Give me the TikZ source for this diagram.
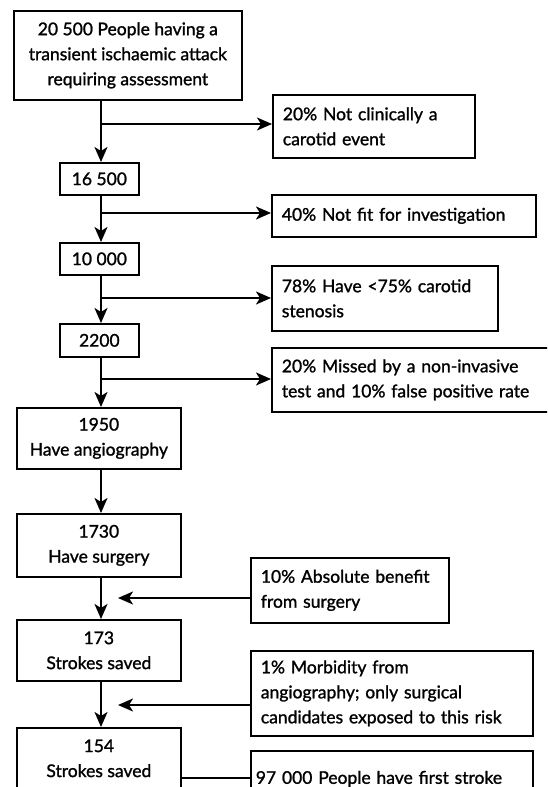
\documentclass[tikz,border=0pt]{standalone}
\usepackage{fontspec}
\setmainfont{Lato}[BoldFont=Lato, BoldFeatures={FakeBold=1.3}]
\usetikzlibrary{arrows.meta}

\begin{document}
\begin{tikzpicture}[x=1pt,y=-1pt,
  flowbox/.style={draw, line width=1.7pt, anchor=north west, align=center, inner sep=0pt, font=\fontsize{17.5}{25}\selectfont\bfseries},
  notebox/.style={draw, line width=1.7pt, anchor=north west, align=left, inner xsep=10pt, inner ysep=0pt, font=\fontsize{17.5}{25}\selectfont\bfseries},
  flow/.style={line width=1.9pt, -{Stealth[length=15pt,width=13pt,inset=4pt]}},
  link/.style={line width=1.9pt}]
 \clip (0,0) rectangle (547,787);
 % Main column
 \node[flowbox, minimum width=228pt, minimum height=89pt] (tia) at (13,10) {20 500 People having a\\transient ischaemic attack\\requiring assessment};
 \node[flowbox, minimum width=79pt, minimum height=32pt] (n16) at (59,162) {16 500};
 \node[flowbox, minimum width=79pt, minimum height=32pt] (n10) at (59,242) {10 000};
 \node[flowbox, minimum width=79pt, minimum height=33pt] (n22) at (59,323) {2200};
 \node[flowbox, minimum width=164pt, minimum height=61pt] (angio) at (16,407) {1950\\Have angiography};
 \node[flowbox, minimum width=164pt, minimum height=63pt] (surg) at (16,513) {1730\\Have surgery};
 \node[flowbox, minimum width=164pt, minimum height=61pt] (saved) at (16,619) {173\\Strokes saved};
 \node[flowbox, minimum width=164pt, minimum height=61pt] (net) at (16,727) {154\\Strokes saved};
 % Side boxes
 \node[notebox, text width=182pt, minimum height=63pt] (notca) at (272,94) {20\% Not clinically a\\carotid event};
 \node[notebox, text width=244pt, minimum height=42pt] (notfit) at (271,194) {40\% Not fit for investigation};
 \node[notebox, text width=206pt, minimum height=65pt] (sten) at (271,265) {78\% Have <75\% carotid\\stenosis};
 \node[notebox, text width=270pt, minimum height=64pt] (miss) at (271,347) {20\% Missed by a non-invasive\\test and 10\% false positive rate};
 \node[notebox, text width=178pt, minimum height=65pt] (benef) at (250,557) {10\% Absolute benefit\\from surgery};
 \node[notebox, text width=262pt, minimum height=85pt] (morb) at (250,650) {1\% Morbidity from\\angiography; only surgical\\candidates exposed to this risk};
 \node[notebox, inner xsep=5pt, text width=272pt, minimum height=56pt] (first) at (250,750) {97 000 People have first stroke};
 % Branch points
 \coordinate (s1) at (101,124);
 \coordinate (s2) at (101,213);
 \coordinate (s3) at (101,298);
 \coordinate (s4) at (101,379);
 \coordinate (m5) at (118,598);
 \coordinate (m6) at (118,705);
 \coordinate (s7) at (180,778);
 % Connectors
 \draw[flow] (tia.south -| s1) -- (n16.north -| s1);
 \draw[flow] (s1) -- (s1 -| notca.west);
 \draw[flow] (n16.south -| s1) -- (n10.north -| s1);
 \draw[flow] (s2) -- (s2 -| notfit.west);
 \draw[flow] (n10.south -| s1) -- (n22.north -| s1);
 \draw[flow] (s3) -- (s3 -| sten.west);
 \draw[flow] (n22.south -| s1) -- (angio.north -| s1);
 \draw[flow] (s4) -- (s4 -| miss.west);
 \draw[flow] (angio.south -| s1) -- (surg.north -| s1);
 \draw[flow] (surg.south -| s1) -- (saved.north -| s1);
 \draw[flow] (m5 -| benef.west) -- (m5);
 \draw[flow] (saved.south -| s1) -- (net.north -| s1);
 \draw[flow] (m6 -| morb.west) -- (m6);
 \draw[link] (s7 -| net.east) -- (s7 -| first.west);
\end{tikzpicture}
\end{document}
